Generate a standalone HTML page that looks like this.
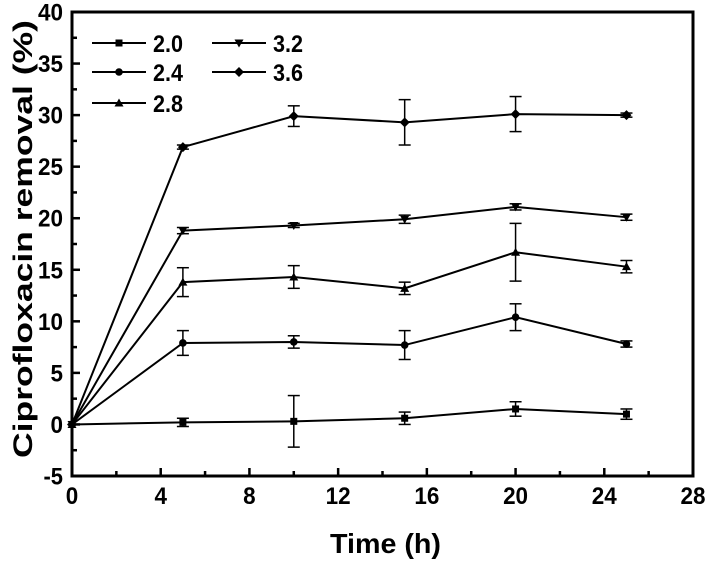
<!DOCTYPE html>
<html><head><meta charset="utf-8"><style>
body{margin:0;background:#fff}
svg text{font-family:"Liberation Sans",Arial,sans-serif;font-weight:bold;fill:#000}
</style></head><body>
<svg id="c" width="708" height="559" viewBox="0 0 708 559" xmlns="http://www.w3.org/2000/svg"></svg>
<script>
const times=[0,5,10,15,20,25];
const seriesNames=["2.0","2.4","2.8","3.2","3.6"];
const s20=[0,0.2,0.3,0.6,1.5,1.0];
const e20=[0,0.4,2.5,0.6,0.7,0.5];
const s24=[0,7.9,8.0,7.7,10.4,7.8];
const e24=[0,1.2,0.6,1.4,1.3,0.3];
const s28=[0,13.8,14.3,13.2,16.7,15.3];
const e28=[0,1.4,1.1,0.6,2.8,0.6];
const s32=[0,18.8,19.3,19.9,21.1,20.1];
const e32=[0,0.3,0.2,0.4,0.3,0.3];
const s36=[0,26.9,29.9,29.3,30.1,30.0];
const e36=[0,0.2,1.0,2.2,1.7,0.2];
const xTicks=[0,4,8,12,16,20,24,28];
const yTicks=[-5,0,5,10,15,20,25,30,35,40];
const markers=["square","circle","triangle","tridown","diamond"];
const L=72,R=693,T=12,B=476;
const X=v=>L+(v-0)/28*(R-L);
const Y=v=>B-(v+5)/45*(B-T);
const NS="http://www.w3.org/2000/svg";
const svg=document.getElementById('c');
function mk(t,a,p){const e=document.createElementNS(NS,t);for(const k in a)e.setAttribute(k,a[k]);(p||svg).appendChild(e);return e;}
function tl(s){let w=0;for(const c of String(s))w+=(c==='-')?7:(c==='.')?5:12.5;return w;}
function marker(type,x,y,g){
 if(type==="square")return mk('rect',{x:x-3.5,y:y-3.5,width:7,height:7,fill:'#000'},g);
 if(type==="circle")return mk('circle',{cx:x,cy:y,r:3.8,fill:'#000'},g);
 if(type==="triangle")return mk('polygon',{points:`${x},${y-4.5} ${x-4.5},${y+3.5} ${x+4.5},${y+3.5}`,fill:'#000'},g);
 if(type==="tridown")return mk('polygon',{points:`${x},${y+4.5} ${x-4.5},${y-3.5} ${x+4.5},${y-3.5}`,fill:'#000'},g);
 return mk('polygon',{points:`${x},${y-5} ${x+5},${y} ${x},${y+5} ${x-5},${y}`,fill:'#000'},g);
}
const fr=mk('rect',{x:L,y:T,width:R-L,height:B-T,fill:'none',stroke:'#000','stroke-width':3});


xTicks.forEach(v=>{
 mk('line',{x1:X(v),x2:X(v),y1:B,y2:B-8,stroke:'#000','stroke-width':2.5});
 if(v<28){mk('line',{x1:X(v+2),x2:X(v+2),y1:B,y2:B-5,stroke:'#000','stroke-width':2.5});}
 const t=mk('text',{x:X(v),y:504,'text-anchor':'middle','font-size':24,textLength:tl(v),lengthAdjust:'spacingAndGlyphs'});t.textContent=v;
 
 
});
yTicks.forEach(v=>{
 mk('line',{x1:L,x2:L+8,y1:Y(v),y2:Y(v),stroke:'#000','stroke-width':2.5});
 if(v<40)mk('line',{x1:L,x2:L+5,y1:Y(v+2.5),y2:Y(v+2.5),stroke:'#000','stroke-width':2.5});
 const t=mk('text',{x:L-9,y:Y(v)+8.5,'text-anchor':'end','font-size':24,textLength:tl(v),lengthAdjust:'spacingAndGlyphs'});t.textContent=v;
 
 
});
const xt=mk('text',{x:330,y:553,'font-size':28,textLength:111,lengthAdjust:'spacingAndGlyphs'});xt.textContent="Time (h)";


const yt=mk('text',{x:-458,y:32,'font-size':27,textLength:438,lengthAdjust:'spacingAndGlyphs',transform:'rotate(-90)'});yt.textContent="Ciprofloxacin removal (%)";


const vals=[s20,s24,s28,s32,s36],errs=[e20,e24,e28,e32,e36];
vals.forEach((s,i)=>{
 const g=mk('g',{});
 
 
 mk('polyline',{points:times.map((t,j)=>X(t)+','+Y(s[j])).join(' '),fill:'none',stroke:'#000','stroke-width':2},g);
 times.forEach((t,j)=>{
  const e=errs[i][j];
  if(e>0){const x=X(t);
   mk('line',{x1:x,x2:x,y1:Y(s[j]-e),y2:Y(s[j]+e),stroke:'#000','stroke-width':1.5},g);
   mk('line',{x1:x-6,x2:x+6,y1:Y(s[j]-e),y2:Y(s[j]-e),stroke:'#000','stroke-width':1.5},g);
   mk('line',{x1:x-6,x2:x+6,y1:Y(s[j]+e),y2:Y(s[j]+e),stroke:'#000','stroke-width':1.5},g);}
  marker(markers[i],X(t),Y(s[j]),g);
 });
});
const lp=[[92,43],[92,72],[92,103],[212,43],[212,72]];
seriesNames.forEach((n,i)=>{
 const g=mk('g',{});
 
 
 const [x,y]=lp[i];
 mk('line',{x1:x,x2:x+54,y1:y,y2:y,stroke:'#000','stroke-width':2},g);
 marker(markers[i],x+27,y,g);
 const t=mk('text',{x:x+61,y:y+9,'font-size':24,textLength:tl(n),lengthAdjust:'spacingAndGlyphs'},g);t.textContent=n;
});
</script>
</body></html>
